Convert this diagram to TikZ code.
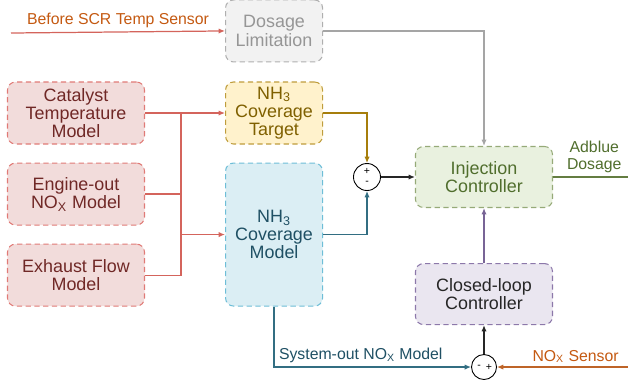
\documentclass[tikz,border=0pt]{standalone}
\usepackage{fontspec}
\setmainfont{Liberation Sans}
\usetikzlibrary{positioning,calc,arrows.meta}
\newcommand{\ScrLoopUnit}{0.02}

\definecolor{redfill}{RGB}{242,220,219}
\definecolor{rededge}{RGB}{224,122,118}
\definecolor{redtext}{RGB}{112,40,38}
\definecolor{redwire}{RGB}{212,100,92}
\definecolor{grayfill}{RGB}{242,242,242}
\definecolor{grayedge}{RGB}{175,175,175}
\definecolor{graytext}{RGB}{150,150,150}
\definecolor{graywire}{RGB}{165,165,165}
\definecolor{goldfill}{RGB}{255,242,204}
\definecolor{goldedge}{RGB}{191,157,60}
\definecolor{goldtext}{RGB}{127,96,0}
\definecolor{goldwire}{RGB}{166,126,12}
\definecolor{bluefill}{RGB}{219,238,244}
\definecolor{blueedge}{RGB}{110,190,215}
\definecolor{bluetext}{RGB}{31,80,100}
\definecolor{bluewire}{RGB}{50,110,130}
\definecolor{greenfill}{RGB}{233,241,223}
\definecolor{greenedge}{RGB}{150,170,120}
\definecolor{greentext}{RGB}{80,110,45}
\definecolor{greenwire}{RGB}{100,125,65}
\definecolor{purplefill}{RGB}{234,230,240}
\definecolor{purpleedge}{RGB}{140,120,170}
\definecolor{purplewire}{RGB}{120,100,150}
\definecolor{orangetext}{RGB}{196,89,17}
\definecolor{orangewire}{RGB}{190,100,40}

\tikzset{
	blk/.style={draw, dash pattern=on 3pt off 2pt, line width=0.6pt,
		rounded corners=\ScrLoopUnit*8 cm, align=center, inner sep=0pt,
		font=\fontsize{10.2}{10.4}\selectfont},
	wide/.style={blk, minimum width=\ScrLoopUnit*137 cm, minimum height=\ScrLoopUnit*62 cm},
	narrow/.style={blk, minimum width=\ScrLoopUnit*97 cm, minimum height=\ScrLoopUnit*62 cm},
	redblk/.style={wide, fill=redfill, draw=rededge, text=redtext},
	sum/.style={circle, draw, line width=0.5pt, fill=white, minimum size=\ScrLoopUnit*27 cm, inner sep=0pt},
	sgn/.style={inner sep=0pt, font=\fontsize{6}{6}\selectfont},
	lbl/.style={inner sep=2pt, align=center, font=\fontsize{9}{9.6}\selectfont},
	wire/.style={line width=0.7pt},
	arr/.style={wire, -{Latex[length=3.6pt,width=3pt]}},
}

\begin{document}
\begin{tikzpicture}[x=\ScrLoopUnit cm, y=-\ScrLoopUnit cm]
		\useasboundingbox (0,0) rectangle (628,380);
		\node[redblk] (a1) at (76,113) {Catalyst\\Temperature\\Model};
		\node[redblk, below=\ScrLoopUnit*18 cm of a1] (a2) {Engine-out\\NO\textsubscript{X} Model};
		\node[redblk, below=\ScrLoopUnit*18 cm of a2] (a3) {Exhaust Flow\\Model};
		\node[narrow, fill=goldfill, draw=goldedge, text=goldtext, right=\ScrLoopUnit*80 cm of a1] (b2) {NH\textsubscript{3}\\Coverage\\Target};
		\node[narrow, fill=grayfill, draw=grayedge, text=graytext, above=\ScrLoopUnit*19 cm of b2] (b1) {Dosage\\Limitation};
		\node[narrow, minimum height=\ScrLoopUnit*143 cm, fill=bluefill, draw=blueedge, text=bluetext, below=\ScrLoopUnit*18 cm of b2] (b3) {NH\textsubscript{3}\\Coverage\\Model};
		\node[wide, minimum height=\ScrLoopUnit*61 cm, fill=greenfill, draw=greenedge, text=greentext] (c1) at (484,177) {Injection\\Controller};
		\node[wide, minimum height=\ScrLoopUnit*61 cm, fill=purplefill, draw=purpleedge, text=black!85, below=\ScrLoopUnit*55 cm of c1] (c2) {Closed-loop\\Controller};
		\node[sum] (s1) at (367,177) {};
		\node[sgn] (s1p) at ($(s1)+(0,-6)$) {+};
		\node[sgn] (s1m) at ($(s1)+(0,6)$) {-};
		\node[sum, minimum size=\ScrLoopUnit*25 cm] (s2) at (484,367) {};
		\node[sgn] (s2m) at ($(s2)+(-5,0)$) {-};
		\node[sgn] (s2p) at ($(s2)+(5,0)$) {+};
		\coordinate (e1) at (11,33);
		\coordinate (e2) at (628,177);
		\coordinate (e3) at (628,367);
		\coordinate (j1) at ($(a1.east)!0.45!(b2.west)$);

		\draw[arr, redwire] (e1) -- (b1.west) node[lbl, pos=0.5, above, text=orangetext] (t1) {Before SCR Temp Sensor};
		\draw[arr, redwire] (a1.east) -- (b2.west);
		\draw[wire, redwire] (a2.east) -| (j1);
		\draw[wire, redwire] (a3.east) -| (j1);
		\draw[arr, redwire] (j1 |- b3.west) -- (b3.west);
		\draw[arr, graywire] (b1.east) -| (c1.north);
		\draw[arr, goldwire] (b2.east) -| (s1.north);
		\draw[arr, bluewire] (b3.east) -| (s1.south);
		\draw[arr, black!85] (s1.east) -- (c1.west);
		\draw[wire, greenwire] (c1.east) -- (e2) node[lbl, pos=0.55, above=0pt, text=greentext] (t2) {Adblue\\Dosage};
		\draw[arr, purplewire] (c2.north) -- (c1.south);
		\draw[arr, black!85] (s2.north) -- (c2.south);
		\draw[arr, bluewire] (b3.south) |- (s2.west) node[lbl, pos=0.72, above, text=bluetext] (t3) {System-out NO\textsubscript{X} Model};
		\draw[arr, orangewire] (e3) -- (s2.east) node[lbl, pos=0.4, above, text=orangetext] (t4) {NO\textsubscript{X} Sensor};
\end{tikzpicture}
\end{document}
